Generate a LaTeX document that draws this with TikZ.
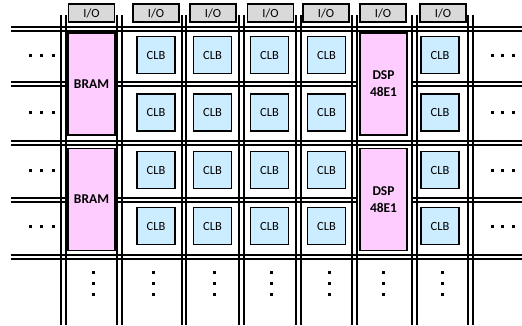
\documentclass[tikz,border=0pt]{standalone}
\usepackage{fontspec}
\setmainfont{Carlito}

\definecolor{clbazul}{RGB}{204,236,255}
\definecolor{bramrosa}{RGB}{255,204,255}
\definecolor{iogris}{RGB}{217,217,217}

\tikzset{
    celda/.style={draw, line width=1.8bp, fill=clbazul, minimum width=38bp,
        minimum height=37bp, inner sep=0pt, font=\fontsize{12.5}{13}\selectfont},
    bloque/.style={draw, line width=1.8bp, fill=bramrosa, minimum width=47bp,
        minimum height=102bp, inner sep=0pt, align=center,
        font=\bfseries\fontsize{13.5}{17}\selectfont},
    entrada/.style={draw, line width=1.5bp, fill=iogris, minimum width=46bp,
        minimum height=18bp, inner sep=0pt, font=\fontsize{12.5}{13}\selectfont},
    cable/.style={line width=1.1bp},
    punto/.style={fill=black},
}

\begin{document}
\begin{tikzpicture}[x=1bp,y=-1bp]
    \useasboundingbox (0,0) rectangle (522,325);

    % Lineas horizontales dobles que atraviesan todo el dispositivo
    \foreach \y in {27,31,141,145,255,259}
        \draw[cable] (11,\y) -- (522,\y);

    % Lineas horizontales intermedias (cortadas por BRAM y DSP)
    \foreach \y in {82,86,198,202} {
        \draw[cable] (11,\y) -- (66,\y);
        \draw[cable] (117,\y) -- (357,\y);
        \draw[cable] (412,\y) -- (522,\y);
    }

    % Lineas verticales dobles entre columnas
    \foreach \x in {61,66,117,122,182,186,239,244,296,301,352,357,412,417,468,473}
        \draw[cable] (\x,15) -- (\x,325);

    % Bloques de entrada/salida en la parte superior
    \foreach \x [count=\i] in {91.5,156,213,270.5,326,383,443}
        \node[entrada] (io\i) at (\x,13) {I/O};

    % Bloques de memoria BRAM
    \node[bloque] (bram1) at (91.5,84) {BRAM};
    \node[bloque] (bram2) at (91.5,199.5) {BRAM};

    % Bloques DSP48E1
    \node[bloque] (dsp1) at (383.5,84) {DSP\\48E1};
    \node[bloque] (dsp2) at (383.5,199.5) {DSP\\48E1};

    % Matriz de bloques logicos CLB
    \foreach \y [count=\f] in {55,112.5,170,226}
        \foreach \x [count=\c] in {156,212.5,269.5,326.5,440}
            \node[celda] (clb\f\c) at (\x,\y) {CLB};

    % Puntos suspensivos horizontales (izquierda y derecha)
    \foreach \y in {55,112.5,170,226}
        \foreach \x in {30,41.5,53,492,502.5,513}
            \fill[punto] (\x-1.5,\y-1.5) rectangle ++(3,3);

    % Puntos suspensivos verticales bajo cada columna
    \foreach \x in {93,153,214,271,329,383,442}
        \foreach \y in {272,283,294}
            \fill[punto] (\x-1.5,\y-1.5) rectangle ++(3,3);

\end{tikzpicture}
\end{document}
